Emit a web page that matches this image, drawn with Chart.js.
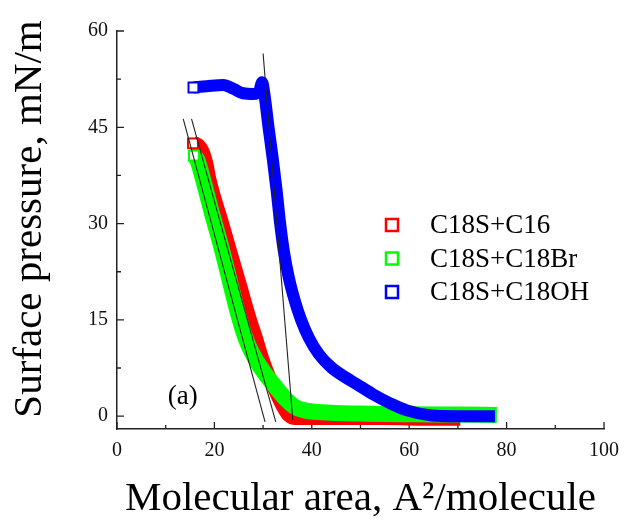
<!DOCTYPE html>
<html><head><meta charset="utf-8">
<script src="https://cdn.jsdelivr.net/npm/chart.js@4/dist/chart.umd.min.js"></script>
<style>html,body{margin:0;padding:0;background:#fff}</style>
</head><body>
<canvas id="c" width="630" height="527"></canvas>
<script>
// ---- data ----
const seriesNames = ['C18S+C16', 'C18S+C18Br', 'C18S+C18OH'];

const c16X = [15.6, 16.7, 17.6, 18.3, 19.0, 21.6, 25.4, 27.3, 28.6, 29.8, 31.3, 32.8, 34.1, 35.2, 36.6, 45, 55, 65, 70.5];
const c16Y = [42.5, 42.2, 41.2, 39.5, 36.8, 30.0, 20.0, 15.0, 12.0, 9.0, 6.0, 3.5, 1.5, 0.2, -0.3, -0.3, -0.3, -0.4, -0.4];

const c18BrX = [15.8, 16.5, 17.7, 19.5, 21.4, 24.5, 25.6, 26.9, 28.5, 30.4, 32.5, 34.5, 36.4, 38.5, 42, 50, 60, 70, 78.0];
const c18BrY = [40.6, 39.9, 36.8, 31.6, 26.4, 17.0, 14.0, 11.2, 8.8, 6.6, 4.6, 2.8, 1.5, 0.9, 0.6, 0.4, 0.3, 0.25, 0.2];

const c18OHX = [15.7, 18.4, 21.8, 23.9, 25.9, 28.0, 29.2, 29.8, 30.3, 31.1, 32.0, 32.8, 33.5, 34.3, 35.3, 36.5, 37.8, 39.4, 41.5, 44.0, 47.0, 49.2, 52.6, 56.1, 59.5, 64.3, 70, 77.6];
const c18OHY = [51.2, 51.4, 51.6, 51.0, 50.3, 50.2, 50.6, 52.0, 50.0, 45.1, 40.0, 35.0, 30.0, 25.5, 21.5, 18.0, 15.0, 12.2, 9.6, 7.6, 6.0, 5.0, 3.4, 2.0, 0.9, 0.15, 0.0, 0.0];

// tangent (fit) lines
const tanC16X = [15.3, 32.6],  tanC16Y = [46.3, -0.9];
const tanBrX  = [13.6, 30.4],  tanBrY  = [46.3, -0.9];
const tanOHX  = [30.0, 36.1],  tanOHY  = [56.5, -0.6];

const xTicks = [0, 20, 40, 60, 80, 100];
const xMinorTicks = [10, 30, 50, 70, 90];
const yTicks = [0, 15, 30, 45, 60];
const yMinorTicks = [7.5, 22.5, 37.5, 52.5];

const xTitle = 'Molecular area, A\u00B2/molecule';
const yTitle = 'Surface pressure, mN/m';
const panelLabel = '(a)';

const colors = ['#ff0000', '#00ff00', '#0000ff'];
const serif = "'Liberation Serif', 'Times New Roman', serif";

const pts = (xs, ys) => xs.map((x, i) => ({x, y: ys[i]}));

function curve(label, xs, ys, color, width, order) {
  return {
    label, data: pts(xs, ys), showLine: true, order,
    borderColor: color, borderWidth: width, borderJoinStyle: 'round', borderCapStyle: 'butt',
    pointStyle: 'rect', pointBackgroundColor: '#fff', pointBorderColor: color, pointBorderWidth: 2,
    pointRadius: c => c.dataIndex === 0 ? 7 : 0, pointHoverRadius: 0,
    cubicInterpolationMode: 'monotone'
  };
}
function tangent(xs, ys) {
  return { label: '', data: pts(xs, ys), showLine: true, order: 0,
    borderColor: '#222', borderWidth: 1.1, pointRadius: 0, tension: 0 };
}

const decor = {
  id: 'decor',
  beforeDatasetsDraw(chart) {
    const {ctx, chartArea: a, scales: {x, y}} = chart;
    ctx.save();
    ctx.strokeStyle = '#222'; ctx.lineWidth = 1.3;
    ctx.beginPath();
    xTicks.forEach(v => { const p = x.getPixelForValue(v); ctx.moveTo(p, a.bottom); ctx.lineTo(p, a.bottom - 7); });
    xMinorTicks.forEach(v => { const p = x.getPixelForValue(v); ctx.moveTo(p, a.bottom); ctx.lineTo(p, a.bottom - 4); });
    yTicks.forEach(v => { const p = y.getPixelForValue(v); ctx.moveTo(a.left, p); ctx.lineTo(a.left + 7, p); });
    yMinorTicks.forEach(v => { const p = y.getPixelForValue(v); ctx.moveTo(a.left, p); ctx.lineTo(a.left + 4, p); });
    ctx.stroke();
    // y axis title
    ctx.fillStyle = '#000';
    ctx.font = '41px ' + serif;
    ctx.textAlign = 'center'; ctx.textBaseline = 'middle';
    ctx.translate(a.left - 87, (a.top + a.bottom) / 2 - 11);
    ctx.rotate(-Math.PI / 2);
    ctx.fillText(yTitle, 0, 0);
    ctx.restore();
  },
  afterDatasetsDraw(chart) {
    const {ctx, chartArea: a, scales: {x, y}} = chart;
    ctx.save();
    // legend
    seriesNames.forEach((n, i) => {
      const cy = a.top + 194 + i * 33.5;
      const cx = a.left + 275;
      ctx.fillStyle = '#fff'; ctx.strokeStyle = colors[i]; ctx.lineWidth = 2.5;
      ctx.fillRect(cx - 6, cy - 6, 12, 12);
      ctx.strokeRect(cx - 6, cy - 6, 12, 12);
      ctx.fillStyle = '#000';
      ctx.font = '27px ' + serif;
      ctx.textBaseline = 'middle'; ctx.textAlign = 'left';
      ctx.fillText(n, a.left + 313, cy + 1);
    });
    // panel label
    ctx.fillStyle = '#000';
    ctx.font = '27px ' + serif;
    ctx.textAlign = 'center'; ctx.textBaseline = 'middle';
    ctx.fillText(panelLabel, x.getPixelForValue(13.5), y.getPixelForValue(3.0));
    ctx.restore();
  }
};

new Chart(document.getElementById('c'), {
  type: 'scatter',
  data: {
    datasets: [
      curve(seriesNames[0], c16X, c16Y, colors[0], 14, 3),
      curve(seriesNames[1], c18BrX, c18BrY, colors[1], 16, 2),
      curve(seriesNames[2], c18OHX, c18OHY, colors[2], 12, 1),
      tangent(tanC16X, tanC16Y),
      tangent(tanBrX, tanBrY),
      tangent(tanOHX, tanOHY)
    ]
  },
  options: {
    responsive: false,
    devicePixelRatio: 1,
    animation: false,
    layout: { padding: { left: 0, right: 26, top: 31, bottom: 0 } },
    plugins: { legend: { display: false }, tooltip: { enabled: false } },
    scales: {
      x: {
        type: 'linear', min: 0, max: 100,
        grid: { display: false, drawTicks: false },
        border: { display: true, color: '#222', width: 1.5 },
        afterBuildTicks: s => { s.ticks = xTicks.map(v => ({value: v})); },
        afterFit: s => { s.height = 98; },
        ticks: { color: '#111', font: { family: serif, size: 20 }, padding: 10, maxRotation: 0 },
        title: { display: true, text: xTitle, color: '#000',
                 font: { family: serif, size: 41 }, padding: { top: 0, bottom: 3 } }
      },
      y: {
        type: 'linear', min: -2, max: 60,
        grid: { display: false, drawTicks: false },
        border: { display: true, color: '#222', width: 1.5 },
        afterBuildTicks: s => { s.ticks = yTicks.map(v => ({value: v})); },
        afterFit: s => { s.width = 117; },
        ticks: { color: '#111', font: { family: serif, size: 20 }, padding: 9 },
        title: { display: false, text: yTitle }
      }
    }
  },
  plugins: [decor]
});
</script>
</body></html>
